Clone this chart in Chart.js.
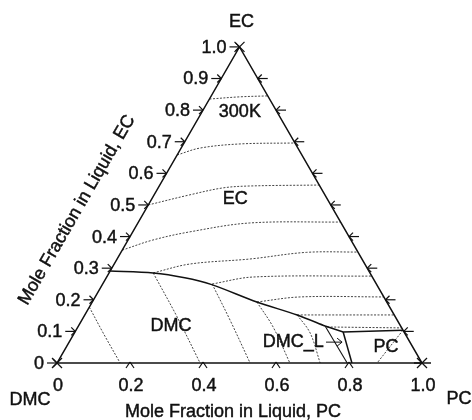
<!DOCTYPE html>
<html lang="en">
<head>
<meta charset="UTF-8">
<title>Ternary liquidus DMC-EC-PC</title>
<script src="https://cdn.jsdelivr.net/npm/chart.js"></script>
<style>
  html, body { margin: 0; padding: 0; background: #fff; }
  #wrap { width: 472px; height: 420px; }
</style>
</head>
<body>
<div id="wrap"><canvas id="chart" width="472" height="420"></canvas></div>
<script>
// ternary points are [PC, EC]  (DMC = 1 - PC - EC)
const ecTicks = [0, 0.1, 0.2, 0.3, 0.4, 0.5, 0.6, 0.7, 0.8, 0.9, 1.0];
const ecTickLabels = ['0', '0.1', '0.2', '0.3', '0.4', '0.5', '0.6', '0.7', '0.8', '0.9', '1.0'];
const pcTicks = [0, 0.2, 0.4, 0.6, 0.8, 1.0];
const pcTickLabels = ['0', '0.2', '0.4', '0.6', '0.8', '1.0'];

// dotted isotherms in the EC field
const iso1 = [[0, 0.835], [0.08, 0.842], [0.155, 0.845]];
const iso2 = [[0, 0.658], [0.052, 0.680], [0.155, 0.693], [0.304, 0.696]];
const iso3 = [[0, 0.5], [0.098, 0.532], [0.178, 0.554], [0.249, 0.560], [0.437, 0.563]];
const iso4 = [[0, 0.357], [0.068, 0.389], [0.157, 0.415], [0.307, 0.443], [0.554, 0.446]];
const iso5 = [[0.121, 0.285], [0.207, 0.313], [0.364, 0.329], [0.508, 0.350], [0.649, 0.351]];
const iso6 = [[0.30, 0.25], [0.401, 0.272], [0.725, 0.275]];
const iso7 = [[0.451, 0.193], [0.562, 0.209], [0.791, 0.209]];
const iso8 = [[0.582, 0.152], [0.848, 0.152]];
const iso9 = [[0.683, 0.114], [0.889, 0.111]];

// dotted isotherms in the DMC field and PC field
const dmcIso1 = [[0, 0.177], [0.079, 0.095], [0.173, 0]];
const dmcIso2 = [[0.121, 0.285], [0.256, 0.146], [0.392, 0]];
const dmcIso3 = [[0.30, 0.25], [0.406, 0.136], [0.529, 0]];
const dmcIso4 = [[0.451, 0.193], [0.535, 0.114], [0.638, 0]];
const dmcIso5 = [[0.582, 0.152], [0.646, 0.095], [0.721, 0]];
const pcIso1 = [[0.896, 0.104], [0.877, 0]];

// solid phase boundaries
const boundaryMain = [[0, 0.291], [0.121, 0.285], [0.215, 0.270], [0.30, 0.248], [0.451, 0.193], [0.582, 0.152], [0.676, 0.117]];
const boundaryTop = [[0.676, 0.117], [0.735, 0.098], [0.896, 0.104]];
const boundaryLeft = [[0.676, 0.117], [0.795, 0]];
const boundaryRight = [[0.735, 0.098], [0.808, 0]];
const triangle = [[0, 0], [1, 0], [0, 1], [0, 0]];

const S3 = Math.sqrt(3) / 2;
const toXY = p => ({ x: p[0] + p[1] / 2, y: p[1] * S3 });

// pixel frame: DMC corner at (57,363), side 365px
const X0 = 57, Y0 = 363, SIDE = 365;

function solid(pts, w, t) {
    return { data: pts.map(toXY), showLine: true, borderColor: '#111', borderWidth: w || 1.4,
        pointRadius: 0, tension: t || 0, fill: false };
}
function dotted(pts) {
    return { data: pts.map(toXY), showLine: true, borderColor: '#444', borderWidth: 1,
        borderDash: [2, 1.5], pointRadius: 0, tension: 0.35, fill: false };
}

const ternaryPlugin = {
    id: 'ternary',
    afterDatasetsDraw(chart) {
        const ctx = chart.ctx, xs = chart.scales.x, ys = chart.scales.y;
        const P = (pc, ec) => [xs.getPixelForValue(pc + ec / 2), ys.getPixelForValue(ec * S3)];
        const seg = (a, b, c, d) => { ctx.beginPath(); ctx.moveTo(a, b); ctx.lineTo(c, d); ctx.stroke(); };
        // text a little heavier than plain regular, like the scanned figure
        const txt = (t, x, y) => {
            ctx.fillText(t, x, y);
            const lw = ctx.lineWidth;
            ctx.lineWidth = 0.45;
            ctx.strokeText(t, x, y);
            ctx.lineWidth = lw;
        };
        ctx.save();
        ctx.strokeStyle = '#111';
        ctx.lineWidth = 1.2;
        ctx.fillStyle = '#111';
        ctx.font = '18px "Liberation Sans", Arial, sans-serif';

        // left axis (EC) ticks and labels
        ctx.textAlign = 'right';
        ctx.textBaseline = 'middle';
        ecTicks.forEach((v, i) => {
            const [x, y] = P(0, v);
            seg(x - 10, y, x, y);
            seg(x - 4, y - 4, x, y);
            seg(x - 4, y + 4, x, y);
            txt(ecTickLabels[i], x - 13, y + 1);
        });
        // right side ticks
        ecTicks.slice(1, -1).forEach(v => {
            const [x, y] = P(1 - v, v);
            seg(x, y, x + 10, y);
            seg(x + 4, y - 4, x, y);
            seg(x + 4, y + 4, x, y);
        });
        // bottom axis (PC) ticks and labels
        ctx.textAlign = 'center';
        ctx.textBaseline = 'top';
        pcTicks.forEach((v, i) => {
            const [x, y] = P(v, 0);
            if (v > 0 && v < 1) {
                seg(x - 4, y + 5, x, y - 1);
                seg(x + 4, y + 5, x, y - 1);
            }
            txt(pcTickLabels[i], x + 1, y + 14);
        });
        // corner crosses
        [[0, 0], [1, 0], [0, 1]].forEach(c => {
            const [x, y] = P(c[0], c[1]);
            seg(x - 5, y - 5, x + 5, y + 5);
            seg(x - 5, y + 5, x + 5, y - 5);
        });
        ctx.lineWidth = 1.5;
        { const [x, y] = P(1, 0); seg(x - 8, y, x + 9, y); }

        // corner names
        ctx.textAlign = 'center';
        ctx.textBaseline = 'middle';
        { const [x, y] = P(0, 1); txt('EC', x + 2, y - 25); }
        { const [x, y] = P(0, 0); txt('DMC', x - 27, y + 37); }
        { const [x, y] = P(1, 0); txt('PC', x + 37, y + 36); }

        // field labels
        const lab = (t, pc, ec) => { const [x, y] = P(pc, ec); txt(t, x, y); };
        lab('300K', 0.104, 0.794);
        lab('EC', 0.229, 0.519);
        lab('DMC', 0.254, 0.117);
        lab('DMC_L', 0.614, 0.066);
        lab('PC', 0.876, 0.051);
        // arrow to DMC_L field
        ctx.lineWidth = 1;
        { const [x1, y1] = P(0.704, 0.066); const [x2, y2] = P(0.748, 0.066);
          seg(x1, y1, x2, y2); seg(x2 - 5, y2 - 4, x2, y2); seg(x2 - 5, y2 + 4, x2, y2); }

        // axis titles
        txt('Mole Fraction in Liquid, PC', 233, 412);
        ctx.translate(77, 210);
        ctx.rotate(-Math.PI / 3);
        txt('Mole Fraction in Liquid, EC', 0, 0);
        ctx.restore();
    }
};

const ctx = document.getElementById('chart').getContext('2d');
new Chart(ctx, {
    type: 'scatter',
    data: {
        datasets: [
            solid(triangle, 1.5),
            solid(boundaryMain, 1.5, 0.3),
            solid(boundaryTop, 1.5),
            solid(boundaryLeft, 1.1),
            solid(boundaryRight, 1.5),
            dotted(iso1), dotted(iso2), dotted(iso3), dotted(iso4), dotted(iso5),
            dotted(iso6), dotted(iso7), dotted(iso8), dotted(iso9),
            dotted(dmcIso1), dotted(dmcIso2), dotted(dmcIso3), dotted(dmcIso4), dotted(dmcIso5),
            dotted(pcIso1)
        ]
    },
    options: {
        responsive: false,
        animation: false,
        layout: { padding: 0 },
        plugins: { legend: { display: false }, tooltip: { enabled: false } },
        scales: {
            x: { type: 'linear', display: false, min: -X0 / SIDE, max: (472 - X0) / SIDE },
            y: { type: 'linear', display: false, min: -(420 - Y0) / SIDE, max: Y0 / SIDE }
        }
    },
    plugins: [ternaryPlugin]
});
</script>
</body>
</html>
